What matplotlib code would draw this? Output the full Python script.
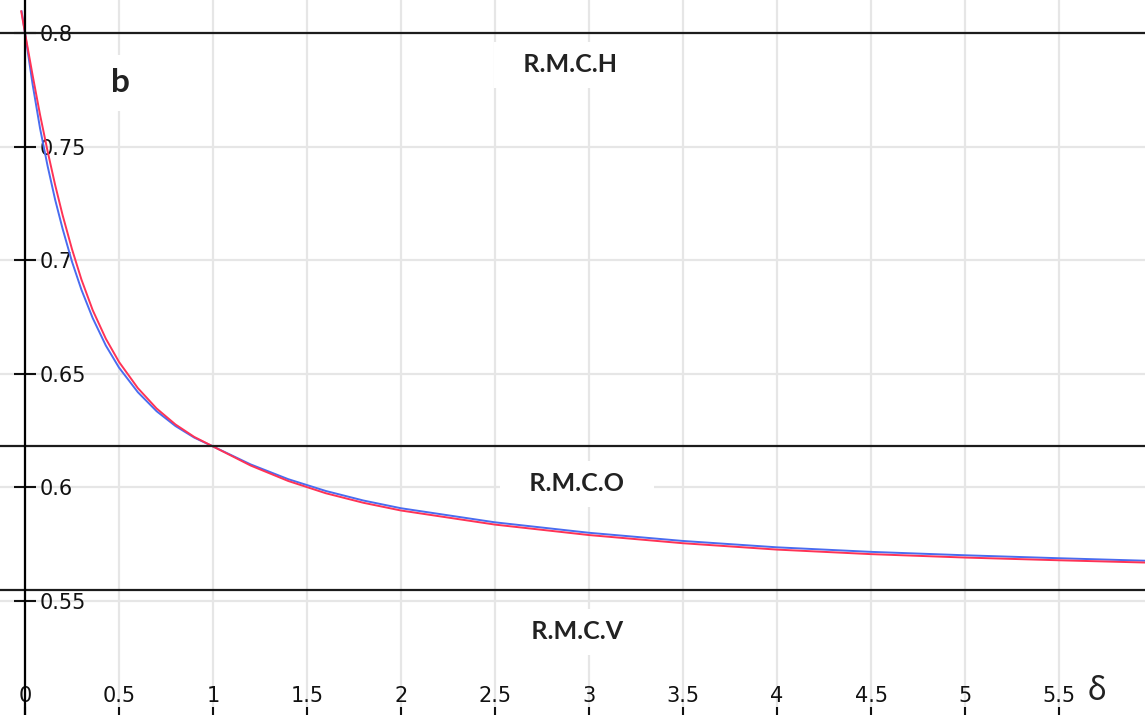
import matplotlib
matplotlib.use("Agg")
import matplotlib.pyplot as plt

# curves
red_x = [-0.02, 0.0, 0.04, 0.08, 0.12, 0.16, 0.20, 0.25, 0.30, 0.36, 0.43, 0.50,
         0.60, 0.70, 0.80, 0.90, 1.0, 1.2, 1.4, 1.6, 1.8, 2.0, 2.5, 3.0, 3.5,
         4.0, 4.5, 5.0, 5.5, 5.96]
red_y = [0.8095, 0.800, 0.7816, 0.7640, 0.7480, 0.7332, 0.7198, 0.7048, 0.6915, 0.6780,
         0.6654, 0.6552, 0.6437, 0.6347, 0.6277, 0.6222, 0.618, 0.6096, 0.6028, 0.5974,
         0.5932, 0.5898, 0.5836, 0.5790, 0.5754, 0.5726, 0.5706, 0.5691, 0.5679, 0.5669]

blue_x = [-0.018, 0.0, 0.04, 0.08, 0.12, 0.16, 0.20, 0.25, 0.30, 0.36, 0.43, 0.50,
          0.60, 0.70, 0.80, 0.90, 1.0, 1.2, 1.4, 1.6, 1.8, 2.0, 2.5, 3.0, 3.5,
          4.0, 4.5, 5.0, 5.5, 5.96]
blue_y = [0.8095, 0.800, 0.7776, 0.7580, 0.7415, 0.7267, 0.7138, 0.6993, 0.6870, 0.6745,
          0.6624, 0.6527, 0.6419, 0.6335, 0.6270, 0.6219, 0.618, 0.6101, 0.6036, 0.5984,
          0.5942, 0.5908, 0.5846, 0.5800, 0.5764, 0.5736, 0.5716, 0.5701, 0.5688, 0.5677]

# horizontal reference levels and their labels
levels = [0.8, 0.618, 0.555]
level_names = ["R.M.C.H", "R.M.C.O", "R.M.C.V"]
name_pos = [(2.9, 0.786), (2.936, 0.6015), (2.936, 0.5364)]

x_ticks = [0, 0.5, 1, 1.5, 2, 2.5, 3, 3.5, 4, 4.5, 5, 5.5]
x_tick_labels = ["0", "0.5", "1", "1.5", "2", "2.5", "3", "3.5", "4", "4.5", "5", "5.5"]
y_ticks = [0.55, 0.6, 0.65, 0.7, 0.75, 0.8]
y_tick_labels = ["0.55", "0.6", "0.65", "0.7", "0.75", "0.8"]

fig = plt.figure(figsize=(11.45, 7.15), dpi=100)
ax = fig.add_axes([0, 0, 1, 1])
ax.set_xlim(-0.133, 5.957)
ax.set_ylim(0.4998, 0.8145)
ax.set_axisbelow(True)

ax.grid(True, color="#e6e6e6", linewidth=1.6)

for lv in levels:
    ax.axhline(lv, color="#1c1c1c", linewidth=1.6, zorder=5)

ax.plot(blue_x, blue_y, color="#4a6cf0", linewidth=1.4, zorder=4)
ax.plot(red_x, red_y, color="#ff3355", linewidth=1.4, zorder=4)

# axes: y spine through x = 0, labels on its right
for side in ["left", "top", "bottom"]:
    ax.spines[side].set_visible(False)
ax.spines["right"].set_position(("data", 0))
ax.spines["right"].set_linewidth(1.6)
ax.spines["right"].set_zorder(6)
ax.yaxis.tick_right()
ax.set_yticks(y_ticks, y_tick_labels)
ax.tick_params(axis="y", direction="inout", length=16, width=1.5, pad=2.5,
               labelsize=15, colors="#111111")
ax.set_xticks(x_ticks, x_tick_labels)
ax.tick_params(axis="x", direction="in", length=6, width=1.5, pad=-21,
               labelsize=15, colors="#111111")

box = dict(boxstyle="square,pad=0.45", facecolor="white", edgecolor="none")
for name, (tx, ty) in zip(level_names, name_pos):
    ax.text(tx, ty, "   " + name + "   ", ha="center", va="center", fontsize=18,
            fontweight="bold", family=["Lato", "DejaVu Sans"], color="#222222",
            bbox=box, zorder=3)

ax.text(0.505, 0.778, "b", ha="center", va="center", fontsize=24, fontweight="bold",
        family=["Lato", "DejaVu Sans"], color="#222222",
        bbox=dict(boxstyle="square,pad=0.4", facecolor="white", edgecolor="none"), zorder=3)
ax.text(5.70, 0.51, "δ", ha="center", va="center", fontsize=23,
        family=["Noto Sans", "DejaVu Sans"], color="#222222")

fig.savefig("out.png", dpi=100)
